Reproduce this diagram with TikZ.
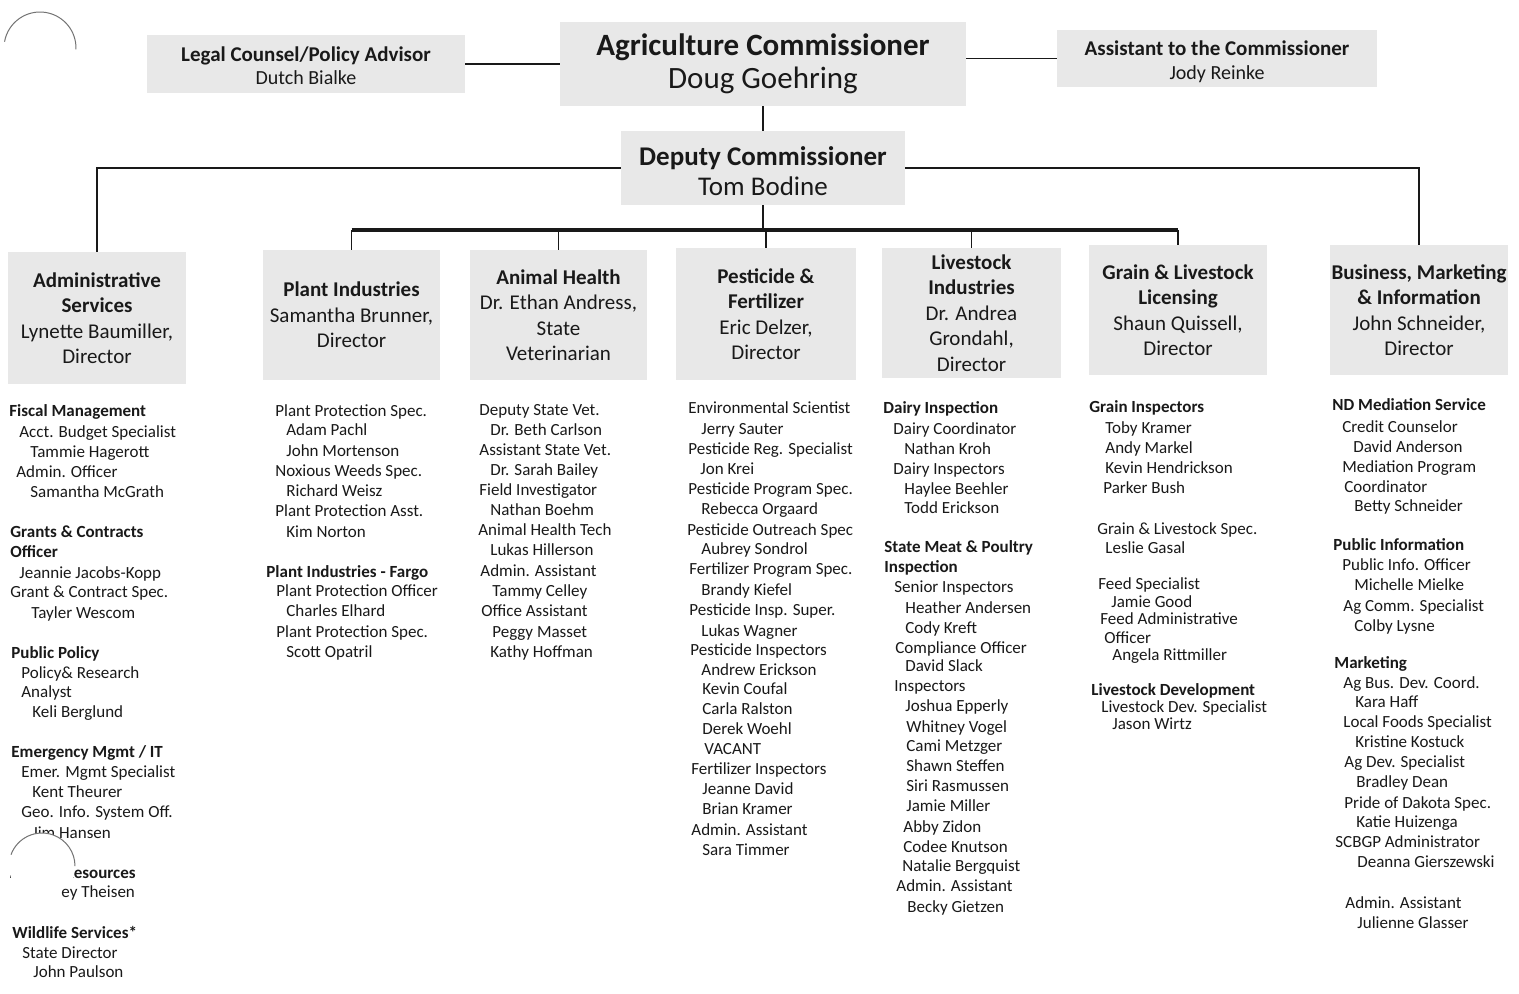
\documentclass[tikz,border=0pt]{standalone}
\usepackage{fontspec}
\setmainfont{Carlito}
\newcounter{itemno}
\tikzset{
  entry/.style={anchor=base west, inner sep=0pt, font=\fontsize{8.5}{10}\selectfont, text=black!90},
  hentry/.style={entry, font=\fontsize{8.5}{10}\selectfont\bfseries},
  box/.style={fill=black!9, draw=none, inner sep=0pt, align=center, text=black!90},
  dept/.style={box, minimum width=89pt, minimum height=65pt, font=\fontsize{10.5}{12.7}\selectfont},
  conn/.style={draw=black!90, line width=0.9pt},
  hconn/.style={draw=black!90, line width=1.3pt},
  punch/.style={draw=black!55, line width=0.5pt}
}
\newcommand\entr[3]{\stepcounter{itemno}\node[entry] (t\arabic{itemno}) at (#1,#2+5) {#3};}
\newcommand\hdrr[3]{\stepcounter{itemno}\node[hentry] (t\arabic{itemno}) at (#1,#2+5) {#3};}
\begin{document}
\begin{tikzpicture}[x=0.5pt,y=-0.5pt]
\useasboundingbox (0,0) rectangle (1519,993);
\fill[white] (0,0) rectangle (1519,993);

% ---------- top boxes ----------
\node[box, minimum width=159pt, minimum height=29pt] (legal) at (306,64) {};
\node[align=center, inner sep=0pt, text=black!90, font=\fontsize{10}{11.5}\selectfont] (legalT) at (306,66)
  {{\fontsize{10.5}{11.5}\selectfont\bfseries Legal Counsel/Policy Advisor}\\Dutch Bialke};
\node[box, minimum width=203pt, minimum height=42pt, font=\fontsize{15.5}{16.5}\selectfont] (comm) at (763,64)
  {{\bfseries Agriculture Commissioner}\\Doug Goehring};
\node[box, minimum width=160pt, minimum height=28.5pt] (asst) at (1217,58.5) {};
\node[align=center, inner sep=0pt, text=black!90, font=\fontsize{10}{12}\selectfont] (asstT) at (1217,62)
  {{\fontsize{10.5}{12}\selectfont\bfseries Assistant to the Commissioner}\\Jody Reinke};
\node[box, minimum width=142pt, minimum height=37pt] (dep) at (763,168) {};
\node[align=center, inner sep=0pt, text=black!90, font=\fontsize{13.5}{15}\selectfont] (depT) at (763,171)
  {{\bfseries Deputy Commissioner}\\Tom Bodine};

% ---------- department boxes ----------
\node[dept, minimum height=66pt] (admin) at (97,318)
  {\textbf{Administrative}\\\textbf{Services}\\Lynette Baumiller,\\Director};
\node[dept, minimum width=88.5pt] (plant) at (351.5,315)
  {\textbf{Plant Industries}\\Samantha Brunner,\\Director};
\node[dept, minimum width=88.5pt] (animal) at (558.5,315)
  {\textbf{Animal Health}\\Dr. Ethan Andress,\\State\\Veterinarian};
\node[dept, minimum width=90pt, minimum height=66pt] (pest) at (766,314)
  {\textbf{Pesticide \&}\\\textbf{Fertilizer}\\Eric Delzer,\\Director};
\node[dept, minimum width=89.5pt] (live) at (971.5,313)
  {\textbf{Livestock}\\\textbf{Industries}\\Dr. Andrea\\Grondahl,\\Director};
\node[dept] (grain) at (1178,310)
  {\textbf{Grain \& Livestock}\\\textbf{Licensing}\\Shaun Quissell,\\Director};
\node[dept] (bus) at (1419,310)
  {\textbf{Business, Marketing}\\\textbf{\& Information}\\John Schneider,\\Director};

% ---------- connectors ----------
\draw[conn] (legal.east) -- (comm.west);
\draw[conn] (comm.east |- asst.west) -- (asst.west);
\draw[conn] (comm.south) -- (dep.north);
\draw[hconn] (dep.west) -| (admin.north);
\draw[hconn] (dep.east) -| (bus.north);
\coordinate (bar) at (763,230);
\draw[conn] (dep.south) -- (bar);
\draw[draw=black!90, line width=1.7pt] (plant.north |- bar) -- (grain.north |- bar);
\foreach \n in {plant,animal,pest,live,grain}{
  \draw[conn] (\n.north |- bar) -- (\n.north);
}

% ---------- Administrative Services staff ----------
\hdrr{9}{411}{Fiscal Management}
\entr{19}{432}{Acct. Budget Specialist}
\entr{30}{452}{Tammie Hagerott}
\entr{16}{472}{Admin. Officer}
\entr{30}{492}{Samantha McGrath}
\hdrr{10}{532}{Grants \& Contracts}
\hdrr{10}{552}{Officer}
\entr{19}{573}{Jeannie Jacobs-Kopp}
\entr{10}{592}{Grant \& Contract Spec.}
\entr{31}{613}{Tayler Wescom}
\hdrr{11}{653}{Public Policy}
\entr{21}{673}{Policy\& Research}
\entr{21}{692}{Analyst}
\entr{32}{712}{Keli Berglund}
\hdrr{11}{752}{Emergency Mgmt / IT}
\entr{21}{772}{Emer. Mgmt Specialist}
\entr{32}{792}{Kent Theurer}
\entr{21}{812}{Geo. Info. System Off.}
\entr{32}{833}{Jim Hansen}
\hdrr{9}{873}{Human Resources}
\hdrr{12}{933}{Wildlife Services*}
\entr{22}{953}{State Director}
\entr{33}{972}{John Paulson}

% ---------- Plant Industries staff ----------
\entr{275}{411}{Plant Protection Spec.}
\entr{286}{430}{Adam Pachl}
\entr{286}{451}{John Mortenson}
\entr{275}{471}{Noxious Weeds Spec.}
\entr{286}{491}{Richard Weisz}
\entr{275}{511}{Plant Protection Asst.}
\entr{286}{532}{Kim Norton}
\hdrr{266}{572}{Plant Industries - Fargo}
\entr{276}{591}{Plant Protection Officer}
\entr{286}{611}{Charles Elhard}
\entr{276}{632}{Plant Protection Spec.}
\entr{286}{652}{Scott Opatril}

% ---------- Animal Health staff ----------
\entr{479}{410}{Deputy State Vet.}
\entr{490}{430}{Dr. Beth Carlson}
\entr{479}{450}{Assistant State Vet.}
\entr{490}{470}{Dr. Sarah Bailey}
\entr{479}{490}{Field Investigator}
\entr{490}{510}{Nathan Boehm}
\entr{478}{530}{Animal Health Tech}
\entr{490}{550}{Lukas Hillerson}
\entr{480}{571}{Admin. Assistant}
\entr{492}{591}{Tammy Celley}
\entr{481}{611}{Office Assistant}
\entr{492}{632}{Peggy Masset}
\entr{490}{652}{Kathy Hoffman}

% ---------- Pesticide & Fertilizer staff ----------
\entr{688}{408}{Environmental Scientist}
\entr{701}{429}{Jerry Sauter}
\entr{688}{449}{Pesticide Reg. Specialist}
\entr{700}{469}{Jon Krei}
\entr{688}{489}{Pesticide Program Spec.}
\entr{701}{509}{Rebecca Orgaard}
\entr{687}{530}{Pesticide Outreach Spec}
\entr{701}{549}{Aubrey Sondrol}
\entr{689}{569}{Fertilizer Program Spec.}
\entr{701}{590}{Brandy Kiefel}
\entr{689}{610}{Pesticide Insp. Super.}
\entr{701}{631}{Lukas Wagner}
\entr{690}{650}{Pesticide Inspectors}
\entr{701}{670}{Andrew Erickson}
\entr{702}{689}{Kevin Coufal}
\entr{702}{709}{Carla Ralston}
\entr{702}{729}{Derek Woehl}
\entr{704}{749}{VACANT}
\entr{691}{769}{Fertilizer Inspectors}
\entr{702}{789}{Jeanne David}
\entr{702}{809}{Brian Kramer}
\entr{691}{830}{Admin. Assistant}
\entr{702}{850}{Sara Timmer}

% ---------- Livestock Industries staff ----------
\hdrr{883}{408}{Dairy Inspection}
\entr{893}{429}{Dairy Coordinator}
\entr{904}{449}{Nathan Kroh}
\entr{893}{469}{Dairy Inspectors}
\entr{904}{489}{Haylee Beehler}
\entr{904}{508}{Todd Erickson}
\hdrr{884}{547}{State Meat \& Poultry}
\hdrr{884}{567}{Inspection}
\entr{894}{587}{Senior Inspectors}
\entr{905}{608}{Heather Andersen}
\entr{905}{628}{Cody Kreft}
\entr{895}{648}{Compliance Officer}
\entr{905}{666}{David Slack}
\entr{894}{686}{Inspectors}
\entr{905}{706}{Joshua Epperly}
\entr{906}{727}{Whitney Vogel}
\entr{906}{746}{Cami Metzger}
\entr{906}{766}{Shawn Steffen}
\entr{906}{786}{Siri Rasmussen}
\entr{906}{806}{Jamie Miller}
\entr{903}{827}{Abby Zidon}
\entr{903}{847}{Codee Knutson}
\entr{902}{866}{Natalie Bergquist}
\entr{896}{886}{Admin. Assistant}
\entr{907}{907}{Becky Gietzen}

% ---------- Grain & Livestock Licensing staff ----------
\hdrr{1089}{407}{Grain Inspectors}
\entr{1105}{428}{Toby Kramer}
\entr{1105}{448}{Andy Markel}
\entr{1105}{468}{Kevin Hendrickson}
\entr{1103}{488}{Parker Bush}
\entr{1097}{529}{Grain \& Livestock Spec.}
\entr{1105}{548}{Leslie Gasal}
\entr{1098}{584}{Feed Specialist}
\entr{1111}{602}{Jamie Good}
\entr{1100}{619}{Feed Administrative}
\entr{1104}{638}{Officer}
\entr{1112}{655}{Angela Rittmiller}
\hdrr{1091}{690}{Livestock Development}
\entr{1101}{707}{Livestock Dev. Specialist}
\entr{1112}{724}{Jason Wirtz}

% ---------- Business, Marketing & Information staff ----------
\hdrr{1332}{405}{ND Mediation Service}
\entr{1342}{427}{Credit Counselor}
\entr{1353}{447}{David Anderson}
\entr{1342}{467}{Mediation Program}
\entr{1344}{487}{Coordinator}
\entr{1354}{506}{Betty Schneider}
\hdrr{1333}{545}{Public Information}
\entr{1342}{565}{Public Info. Officer}
\entr{1354}{585}{Michelle Mielke}
\entr{1343}{606}{Ag Comm. Specialist}
\entr{1354}{626}{Colby Lysne}
\hdrr{1334}{663}{Marketing}
\entr{1343}{683}{Ag Bus. Dev. Coord.}
\entr{1355}{702}{Kara Haff}
\entr{1343}{722}{Local Foods Specialist}
\entr{1355}{742}{Kristine Kostuck}
\entr{1344}{762}{Ag Dev. Specialist}
\entr{1356}{782}{Bradley Dean}
\entr{1344}{803}{Pride of Dakota Spec.}
\entr{1356}{822}{Katie Huizenga}
\entr{1335}{842}{SCBGP Administrator}
\entr{1357}{862}{Deanna Gierszewski}
\entr{1345}{903}{Admin. Assistant}
\entr{1357}{923}{Julienne Glasser}

% ---------- punch-hole marks of the scan ----------
\draw[punch] (40,48) ++(190:36) arc[start angle=190, end angle=362, radius=36];
\fill[white] (42,866) circle[radius=33];
\draw[punch] (42,866) ++(200:33) arc[start angle=200, end angle=360, radius=33];
\entr{61}{892}{ey Theisen}
\end{tikzpicture}
\end{document}
